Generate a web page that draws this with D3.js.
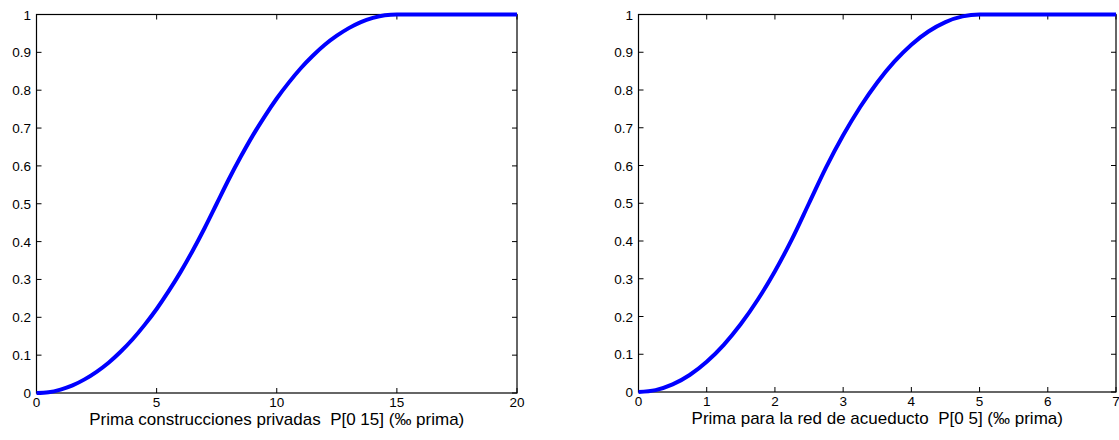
<!DOCTYPE html>
<html><head><meta charset="utf-8">
<script src="https://cdn.jsdelivr.net/npm/d3@7"></script>
<style>
body{margin:0;background:#fff;}
svg{display:block;font-family:"Liberation Sans",Arial,sans-serif;}
text{white-space:pre;}
</style></head>
<body><svg id="c" width="1119" height="440"></svg>
<script>
// Left panel: Prima construcciones privadas
const xLeft = [0,0.5,1,1.5,2,2.5,3,3.5,4,4.5,5,5.5,6,6.5,7,7.5,8,8.5,9,9.5,10,10.5,11,11.5,12,12.5,13,13.5,14,14.5,15,20];
const yLeft = [0,0.002,0.009,0.02,0.036,0.056,0.08,0.109,0.142,0.18,0.222,0.269,0.32,0.376,0.436,0.5,0.564,0.624,0.68,0.731,0.778,0.82,0.858,0.891,0.92,0.944,0.964,0.98,0.991,0.998,1,1];
// Right panel: Prima para la red de acueducto
const xRight = [0,0.25,0.5,0.75,1,1.25,1.5,1.75,2,2.25,2.5,2.75,3,3.25,3.5,3.75,4,4.25,4.5,4.75,5,7];
const yRight = [0,0.005,0.02,0.045,0.08,0.125,0.18,0.245,0.32,0.405,0.5,0.595,0.68,0.755,0.82,0.875,0.92,0.955,0.98,0.995,1,1];
const xTicksLeft = [0,5,10,15,20];
const xTicksRight = [0,1,2,3,4,5,6,7];
const yTicks = [0,0.1,0.2,0.3,0.4,0.5,0.6,0.7,0.8,0.9,1];
const labelLeft = "Prima construcciones privadas  P[0 15] (\u2030 prima)";
const labelRight = "Prima para la red de acueducto  P[0 5] (\u2030 prima)";

const svg = d3.select("#c");
function panel(cfg){
  const g = svg.append("g");
  const x = d3.scaleLinear().domain(cfg.xdom).range([cfg.x0, cfg.x1]);
  const y = d3.scaleLinear().domain([0,1]).range([cfg.y1, cfg.y0]);
  const tl = 5;
  cfg.xt.forEach(v=>{
    g.append("line").attr("x1",x(v)).attr("x2",x(v)).attr("y1",cfg.y1).attr("y2",cfg.y1-tl).attr("stroke","#000");
    g.append("line").attr("x1",x(v)).attr("x2",x(v)).attr("y1",cfg.y0).attr("y2",cfg.y0+tl).attr("stroke","#000");
    g.append("text").attr("x",x(v)).attr("y",cfg.y1+13.5).attr("text-anchor","middle").attr("font-size",13.5).text(d3.format("~g")(v));
  });
  yTicks.forEach(v=>{
    g.append("line").attr("x1",cfg.x0).attr("x2",cfg.x0+tl).attr("y1",y(v)).attr("y2",y(v)).attr("stroke","#000");
    g.append("line").attr("x1",cfg.x1).attr("x2",cfg.x1-tl).attr("y1",y(v)).attr("y2",y(v)).attr("stroke","#000");
    g.append("text").attr("x",cfg.x0-5.5).attr("y",y(v)+5).attr("text-anchor","end").attr("font-size",13.5).text(d3.format("~g")(v));
  });
  g.append("rect").attr("x",cfg.x0).attr("y",cfg.y0).attr("width",cfg.x1-cfg.x0).attr("height",cfg.y1-cfg.y0)
    .attr("fill","none").attr("stroke","#000").attr("stroke-width",1.2);
  const line = d3.line().x((d,i)=>x(cfg.xs[i])).y(d=>y(d)).curve(d3.curveMonotoneX);
  g.append("path").attr("d",line(cfg.ys)).attr("fill","none").attr("stroke","#0000ff").attr("stroke-width",4).attr("stroke-linejoin","round");
  g.append("text").attr("x",(cfg.x0+cfg.x1)/2).attr("y",cfg.y1+32).attr("text-anchor","middle").attr("font-size",17).text(cfg.label);
}
panel({xdom:[0,20], x0:36.5, x1:517, y0:14.5, y1:393, xt:xTicksLeft, xs:xLeft, ys:yLeft, label:labelLeft});
panel({xdom:[0,7], x0:638.5, x1:1116, y0:14.5, y1:392, xt:xTicksRight, xs:xRight, ys:yRight, label:labelRight});
</script></body></html>
